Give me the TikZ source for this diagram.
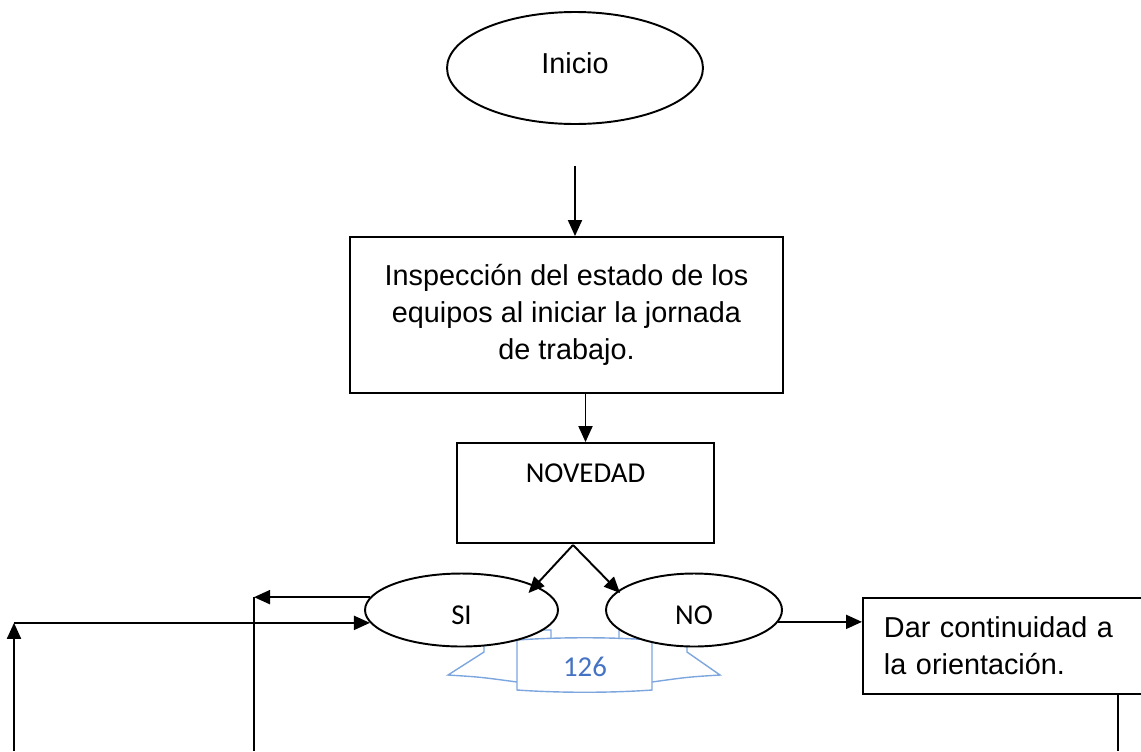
\documentclass[tikz,border=0pt]{standalone}
\usepackage{fontspec}
\setmainfont{Liberation Sans}
\newfontfamily\calibri{Carlito}
\usetikzlibrary{shapes.geometric,arrows.meta}
\definecolor{ribbonline}{RGB}{125,166,222}
\definecolor{ribbontext}{RGB}{68,114,196}

\begin{document}
\begin{tikzpicture}[x=0.02cm, y=-0.02cm,
  every node/.style={font=\fontsize{16.4}{21}\selectfont},
  oval/.style={draw, ellipse, line width=1.1pt, fill=white, inner sep=0pt},
  box/.style={draw, rectangle, line width=1.1pt, fill=white},
  arr/.style={line width=1.1pt, -{Triangle[length=0.32cm, width=0.28cm]}},
  link/.style={line width=1.1pt}]
  \useasboundingbox (0,0) rectangle (1141,751);
  % page number ribbon
  \draw[ribbonline, line width=0.8pt, line join=miter]
    (551,640) -- (551,630) -- (484,630) -- (484,652) -- (448,675)
    .. controls (480,677) .. (517,682);
  \draw[ribbonline, line width=0.8pt, line join=miter]
    (619,640) -- (619,630) -- (687,630) -- (687,652) -- (720,675)
    .. controls (688,677) .. (652,682);
  \draw[ribbonline, line width=0.8pt, fill=white]
    (517,640) .. controls (560,637) and (610,637) .. (652,640)
    -- (652,690) .. controls (610,693) and (560,693) .. (517,690) -- cycle;
  \node[text=ribbontext, font=\calibri\fontsize{16.4}{21}\selectfont] (page) at (585,667) {126};
  % nodes
  \node[oval, minimum width=5.12cm, minimum height=2.24cm, text depth=0.2cm] (inicio) at (575,68) {Inicio};
  \node[box, minimum width=8.66cm, minimum height=3.12cm, align=center] (inspeccion) at (566.5,315)
    {Inspección del estado de los\\equipos al iniciar la jornada\\de trabajo.};
  \node[box, minimum width=5.14cm, minimum height=2cm, text depth=0.81cm,
    font=\calibri\fontsize{16.4}{21}\selectfont] (novedad) at (585.5,493) {NOVEDAD};
  \node[oval, minimum width=3.86cm, minimum height=1.46cm, text height=0.57cm,
    font=\calibri\fontsize{16.4}{21}\selectfont] (si) at (461.5,610) {SI};
  \node[oval, minimum width=3.52cm, minimum height=1.46cm, text height=0.57cm,
    font=\calibri\fontsize{16.4}{21}\selectfont] (no) at (694,610) {NO};
  \node[box, anchor=west, minimum height=1.92cm, inner xsep=0.42cm, text width=5.2cm, align=left] (dar)
    at (862,646) {Dar continuidad a\\la orientación.};
  \coordinate (fork) at (573,545);
  \coordinate (leftdown) at (254,751);
  \coordinate (farleft) at (14,751);
  \coordinate (darout) at (1118,751);
  % connectors
  \draw[arr] ([shift={(0,41)}]inicio.south) -- (inicio.south |- inspeccion.north);
  \draw[arr] (novedad.north |- inspeccion.south) -- (novedad.north);
  \draw[arr] (fork) -- ([shift={(67,-17)}]si.center);
  \draw[arr] (fork) -- ([shift={(-74,-17)}]no.center);
  \draw[arr] (no.-8) -- (no.-8 -| dar.west);
  \draw[arr] (si.172) -- (si.172 -| leftdown);
  \draw[link] (si.172 -| leftdown) -- (leftdown);
  \draw[arr] (farleft) -- (farleft |- si.188);
  \draw[arr] (farleft |- si.188) -- (si.188);
  \draw[link] (dar.south -| darout) -- (darout);
\end{tikzpicture}
\end{document}
